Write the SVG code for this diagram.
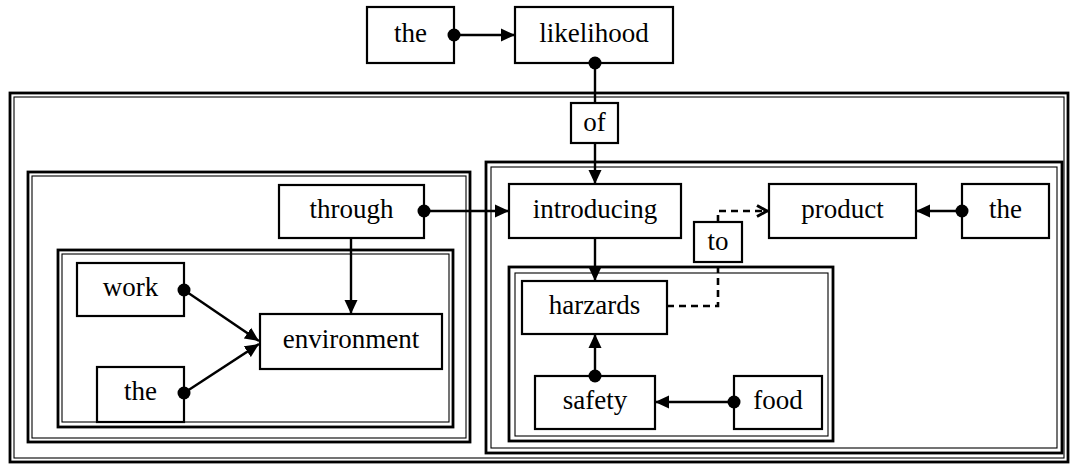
<svg xmlns="http://www.w3.org/2000/svg" width="1071" height="466" viewBox="0 0 1071 466">
<style>
.box{fill:#fff;stroke:#000;stroke-width:2.2}
.fo{fill:none;stroke:#000;stroke-width:2.8}
.fi{fill:none;stroke:#000;stroke-width:1.1}
.t{font-family:"Liberation Serif","Times New Roman",serif;font-size:27px;text-anchor:middle;fill:#000}
.c{fill:none;stroke:#000;stroke-width:2.4}
.d{fill:none;stroke:#000;stroke-width:2.6;stroke-dasharray:7 5}
.dot{fill:#000}
</style>
<defs>
<marker id="arr" viewBox="0 0 14 14" refX="14" refY="7" markerWidth="14" markerHeight="14" markerUnits="userSpaceOnUse" orient="auto">
<path d="M0,0.5 L14,7 L0,13.5 Z" fill="#000"/>
</marker>
<marker id="open" viewBox="0 0 14 14" refX="13" refY="7" markerWidth="14" markerHeight="14" markerUnits="userSpaceOnUse" orient="auto">
<path d="M2,1.5 L12,7 L2,12.5" fill="none" stroke="#000" stroke-width="3"/>
</marker>
</defs>
<rect width="1071" height="466" fill="#fff"/>
<g id="frames">
<g id="frame-outer"><rect class="fo" x="10" y="93" width="1058" height="369"/><rect class="fi" x="14" y="97" width="1050" height="361"/></g>
<g id="frame-left"><rect class="fo" x="28" y="172" width="442" height="270"/><rect class="fi" x="32" y="176" width="434" height="262"/></g>
<g id="frame-left-inner"><rect class="fo" x="58" y="250" width="395" height="177"/><rect class="fi" x="62" y="254" width="387" height="168"/></g>
<g id="frame-right"><rect class="fo" x="486" y="162" width="576" height="291"/><rect class="fi" x="491" y="167" width="566" height="281"/></g>
<g id="frame-hazards"><rect class="fo" x="509" y="267" width="324" height="174"/><rect class="fi" x="515" y="273" width="313" height="163"/></g>
</g>
<g id="n-the1"><rect class="box" x="367" y="7" width="87" height="56"/><text class="t" x="410.5" y="42">the</text></g>
<g id="n-likelihood"><rect class="box" x="515" y="7" width="158" height="56"/><text class="t" x="594" y="42">likelihood</text></g>
<g id="n-of"><rect class="box" x="571" y="103" width="47" height="40"/><text class="t" x="594.5" y="131">of</text></g>
<g id="n-through"><rect class="box" x="279" y="185" width="145" height="53"/><text class="t" x="351.5" y="218">through</text></g>
<g id="n-work"><rect class="box" x="77" y="263" width="107" height="53"/><text class="t" x="130.5" y="296">work</text></g>
<g id="n-the2"><rect class="box" x="97" y="367" width="87" height="55"/><text class="t" x="140.5" y="400">the</text></g>
<g id="n-environment"><rect class="box" x="260" y="314" width="182" height="55"/><text class="t" x="351" y="348">environment</text></g>
<g id="n-introducing"><rect class="box" x="509" y="184" width="172" height="54"/><text class="t" x="595" y="218">introducing</text></g>
<g id="n-to"><rect class="box" x="694" y="222" width="48" height="40"/><text class="t" x="718" y="250">to</text></g>
<g id="n-product"><rect class="box" x="769" y="184" width="147" height="54"/><text class="t" x="842.5" y="218">product</text></g>
<g id="n-the3"><rect class="box" x="962" y="184" width="87" height="54"/><text class="t" x="1005.5" y="218">the</text></g>
<g id="n-harzards"><rect class="box" x="522" y="281" width="145" height="53"/><text class="t" x="594.5" y="314">harzards</text></g>
<g id="n-safety"><rect class="box" x="535" y="376" width="120" height="53"/><text class="t" x="595" y="409">safety</text></g>
<g id="n-food"><rect class="box" x="734" y="376" width="88" height="53"/><text class="t" x="778" y="409">food</text></g>
<g id="connectors">
<line class="c" x1="454" y1="35" x2="515" y2="35" marker-end="url(#arr)"/>
<circle class="dot" cx="454" cy="35" r="6.5"/>
<line class="c" x1="595" y1="63" x2="595" y2="103"/>
<circle class="dot" cx="595" cy="63" r="6.5"/>
<line class="c" x1="595" y1="143" x2="595" y2="184" marker-end="url(#arr)"/>
<line class="c" x1="424" y1="211" x2="509" y2="211" marker-end="url(#arr)"/>
<circle class="dot" cx="424" cy="211" r="6.5"/>
<line class="c" x1="351" y1="238" x2="351" y2="314" marker-end="url(#arr)"/>
<line class="c" x1="184" y1="290" x2="259" y2="341" marker-end="url(#arr)"/>
<circle class="dot" cx="184" cy="290" r="6.5"/>
<line class="c" x1="184" y1="393" x2="259" y2="344" marker-end="url(#arr)"/>
<circle class="dot" cx="184" cy="393" r="6.5"/>
<line class="c" x1="595" y1="238" x2="595" y2="281" marker-end="url(#arr)"/>
<polyline class="d" points="667,306 718,306 718,262"/>
<polyline class="d" points="718,222 718,211 768,211" marker-end="url(#open)"/>
<line class="c" x1="595" y1="376" x2="595" y2="334" marker-end="url(#arr)"/>
<circle class="dot" cx="595" cy="376" r="6.5"/>
<line class="c" x1="734" y1="402" x2="655" y2="402" marker-end="url(#arr)"/>
<circle class="dot" cx="734" cy="402" r="6.5"/>
<line class="c" x1="962" y1="211" x2="916" y2="211" marker-end="url(#arr)"/>
<circle class="dot" cx="962" cy="211" r="6.5"/>
</g>
</svg>
